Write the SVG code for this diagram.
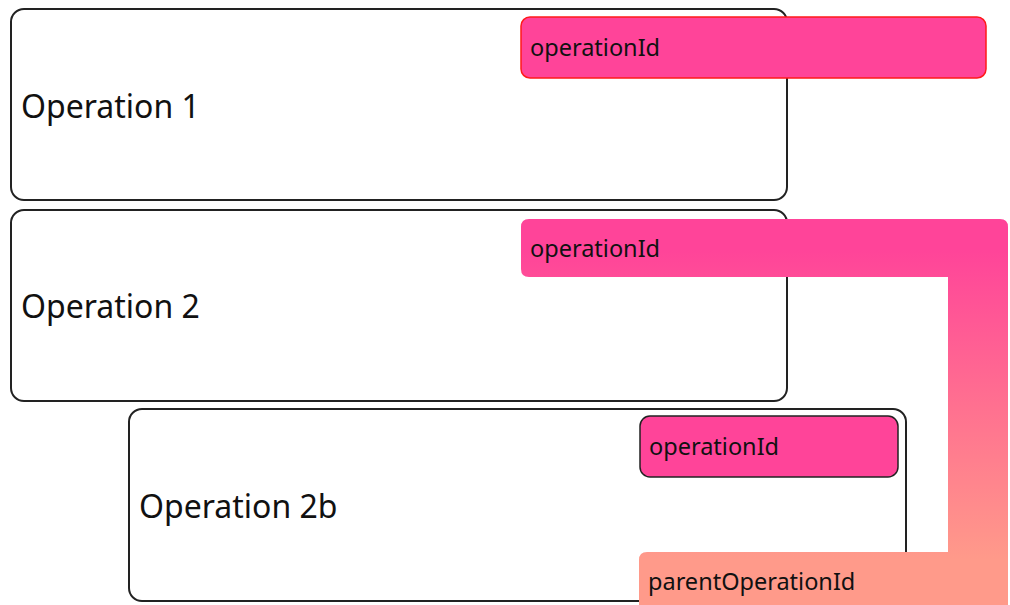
<svg xmlns="http://www.w3.org/2000/svg" width="1010" height="605" viewBox="0 0 1010 605">
<style>
.box{fill:#fff;stroke:#222;stroke-width:2}
.big{font-family:"Noto Sans","Open Sans",sans-serif;font-size:32px;fill:#111}
.small{font-family:"Noto Sans","Open Sans",sans-serif;font-size:23.5px;fill:#111}
.pill{fill:#FF4499}
</style>
<defs>
<linearGradient id="bracketGrad" gradientUnits="userSpaceOnUse" x1="0" y1="250" x2="0" y2="560">
<stop offset="0" stop-color="#FF4499"/>
<stop offset="0.5" stop-color="#FF7090"/>
<stop offset="1" stop-color="#FF9A8A"/>
</linearGradient>
</defs>
<g id="op1">
<rect class="box" x="11" y="9" width="776" height="191" rx="13"/>
<text class="big" x="21" y="118">Operation 1</text>
<g id="op1-id">
<rect class="pill" x="521" y="17" width="465" height="61" rx="9" stroke="#FF1A1A" stroke-width="1.5"/>
<text class="small" x="530" y="56">operationId</text>
</g>
</g>
<g id="op2">
<rect class="box" x="11" y="210" width="776" height="191" rx="13"/>
<text class="big" x="21" y="318">Operation 2</text>
</g>
<g id="op2b">
<rect class="box" x="129" y="409" width="777" height="192" rx="13"/>
<text class="big" x="139" y="518">Operation 2b</text>
<g id="op2b-id">
<rect class="pill" x="640" y="416" width="258" height="61" rx="10" stroke="#222" stroke-width="1.5"/>
<text class="small" x="649" y="455">operationId</text>
</g>
</g>
<g id="connectors">
<path fill="url(#bracketGrad)" d="M529,219 H1000 Q1008,219 1008,227 V605 H639 V560 Q639,552 647,552 H948 V277 H529 Q521,277 521,269 V227 Q521,219 529,219 Z"/>
<text class="small" x="530" y="257">operationId</text>
<text class="small" x="648" y="590">parentOperationId</text>
</g>
</svg>
